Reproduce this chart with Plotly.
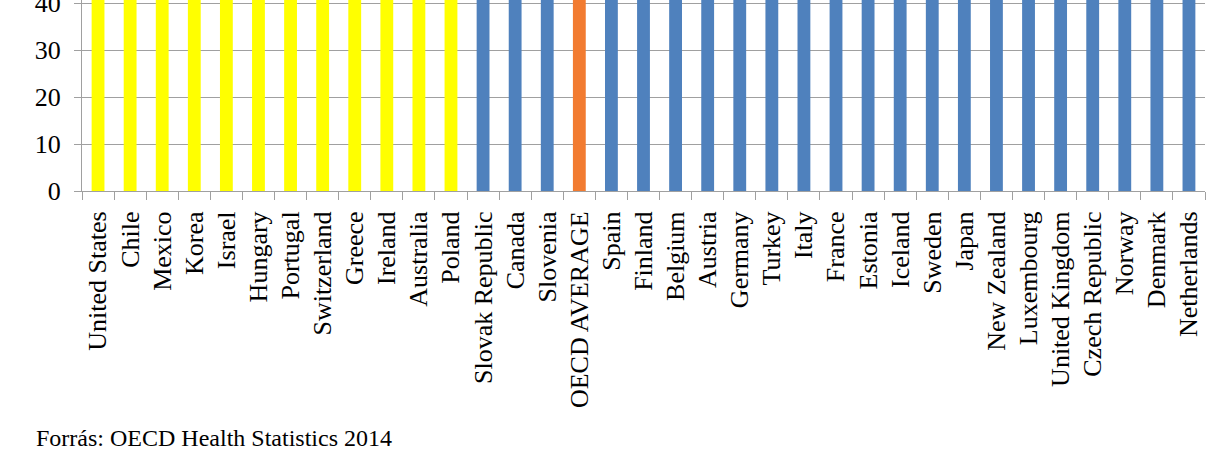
import plotly.graph_objects as go

# Categories (left to right)
countries = ["United States", "Chile", "Mexico", "Korea", "Israel", "Hungary", "Portugal",
             "Switzerland", "Greece", "Ireland", "Australia", "Poland", "Slovak Republic",
             "Canada", "Slovenia", "OECD AVERAGE", "Spain", "Finland", "Belgium", "Austria",
             "Germany", "Turkey", "Italy", "France", "Estonia", "Iceland", "Sweden", "Japan",
             "New Zealand", "Luxembourg", "United Kingdom", "Czech Republic", "Norway",
             "Denmark", "Netherlands"]
# Bars are clipped above the visible top (~40.6); values estimated (all exceed 40)
values = [52, 51, 50, 50, 49, 49, 48, 48, 48, 47, 47, 46, 46, 46, 45, 45, 45, 45, 44, 44,
          44, 44, 44, 43, 43, 43, 43, 43, 42, 42, 42, 42, 41, 41, 41]
# group: 0 = yellow, 1 = blue, 2 = orange (average)
groups = [0]*12 + [1]*3 + [2] + [1]*19

palette = {0: "#FFFF00", 1: "#4F81BD", 2: "#F27B30"}
colors = [palette[g] for g in groups]

y_ticks = [0, 10, 20, 30, 40]

fig = go.Figure(go.Bar(x=countries, y=values, marker_color=colors, marker_line_width=0))

fig.update_layout(
    width=1232, height=462,
    margin=dict(l=82, r=27, t=0, b=271),
    paper_bgcolor="white", plot_bgcolor="white",
    bargap=0.6, showlegend=False,
    font=dict(family="Liberation Serif", size=26, color="black"),
    annotations=[dict(text="Forrás: OECD Health Statistics 2014", xref="paper", yref="paper",
                      x=-0.0428, y=-1.293, xanchor="left", yanchor="middle",
                      showarrow=False, font=dict(family="Liberation Serif", size=24, color="black"))],
)
fig.update_xaxes(
    type="category", tickangle=-90, tickson="boundaries", ticks="outside", ticklen=8,
    tickcolor="#A0A0A0", showline=True, linecolor="#A0A0A0", linewidth=1,
    tickfont=dict(family="Liberation Serif", size=26, color="black"),
    ticklabelstandoff=9, showgrid=False, automargin=False,
)
fig.update_yaxes(
    range=[0, 40.64], tickvals=y_ticks, ticks="outside", ticklen=7, tickcolor="#A0A0A0",
    showline=True, linecolor="#A0A0A0", linewidth=1, showgrid=True, gridcolor="#A0A0A0",
    gridwidth=1, zeroline=False, ticklabeloverflow="allow", automargin=False,
    tickfont=dict(family="Liberation Serif", size=26, color="black"), ticklabelstandoff=8,
)

fig.write_html("out.html", config={"displayModeBar": False},
               post_script="document.body.style.margin='0';document.body.style.overflow='hidden';")
